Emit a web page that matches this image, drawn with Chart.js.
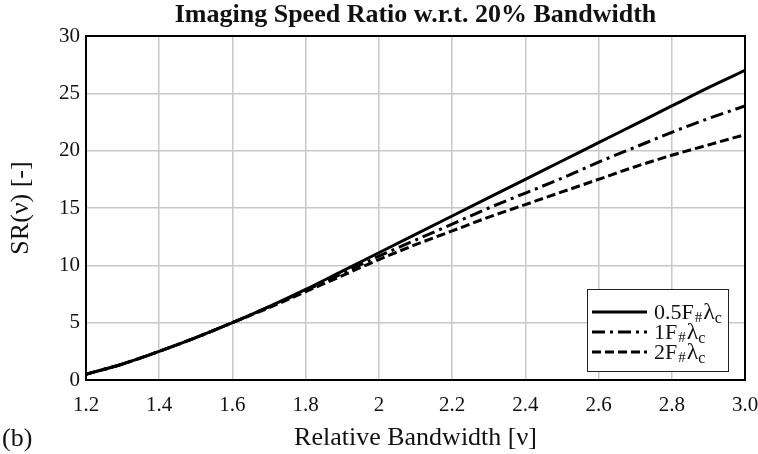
<!DOCTYPE html>
<html>
<head>
<meta charset="utf-8">
<script src="https://cdn.jsdelivr.net/npm/chart.js@4/dist/chart.umd.min.js"></script>
<style>
  html, body { margin: 0; padding: 0; background: #fff; }
  #wrap { width: 758px; height: 454px; }
</style>
</head>
<body>
<div id="wrap"><canvas id="myChart" width="758" height="454"></canvas></div>
<script>
// data
var bandwidth = [1.2, 1.3, 1.4, 1.5, 1.6, 1.7, 1.8, 1.9, 2.0, 2.1, 2.2, 2.3, 2.4, 2.5, 2.6, 2.7, 2.8, 2.9, 3.0]
var sr_half = [0.5, 1.4, 2.5, 3.7, 5.0, 6.4, 7.9, 9.5, 11.1, 12.7, 14.3, 15.9, 17.5, 19.1, 20.7, 22.3, 23.9, 25.5, 27.0]
var sr_one  = [0.5, 1.4, 2.5, 3.7, 5.0, 6.4, 7.8, 9.3, 10.8, 12.2, 13.6, 15.0, 16.3, 17.6, 19.0, 20.3, 21.6, 22.8, 23.9]
var sr_two  = [0.5, 1.4, 2.5, 3.7, 5.0, 6.3, 7.7, 9.1, 10.5, 11.8, 13.0, 14.2, 15.3, 16.4, 17.5, 18.6, 19.6, 20.5, 21.4]
var xTickLabels = ['1.2', '1.4', '1.6', '1.8', '2', '2.2', '2.4', '2.6', '2.8', '3.0']
var legendNames = [['0.5F', '#', 'λ', 'c'], ['1F', '#', 'λ', 'c'], ['2F', '#', 'λ', 'c']]
var dashes = [[], [13, 5, 3, 5], [9, 4]]
var chartTitle = 'Imaging Speed Ratio w.r.t. 20% Bandwidth'

var SERIF = '"Liberation Serif", "Times New Roman", serif'

function pts(ys) {
  return bandwidth.map(function (x, i) { return { x: x, y: ys[i] } })
}

// frame around plot, title over plot, legend box, panel letter
var extras = {
  id: 'extras',
  afterDraw: function (chart) {
    var ctx = chart.ctx
    var a = chart.chartArea
    ctx.save()
    ctx.strokeStyle = '#000'
    ctx.lineWidth = 2
    ctx.strokeRect(a.left, a.top, a.right - a.left, a.bottom - a.top)

    ctx.fillStyle = '#111'
    ctx.font = 'bold 26px ' + SERIF
    ctx.textAlign = 'center'
    ctx.textBaseline = 'middle'
    ctx.fillText(chartTitle, (a.left + a.right) / 2, 15)
    ctx.textAlign = 'left'

    // legend
    var bx = 587, by = 289, bw = 141, bh = 82
    ctx.fillStyle = '#fff'
    ctx.fillRect(bx, by, bw, bh)
    ctx.lineWidth = 1
    ctx.strokeStyle = '#222'
    ctx.strokeRect(bx + 0.5, by + 0.5, bw, bh)
    var rows = [312, 332, 352]
    for (var i = 0; i < 3; i++) {
      ctx.beginPath()
      ctx.setLineDash(dashes[i])
      ctx.lineWidth = 3
      ctx.strokeStyle = '#000'
      ctx.moveTo(592, rows[i])
      ctx.lineTo(647, rows[i])
      ctx.stroke()
      ctx.setLineDash([])
      var n = legendNames[i]
      var x = 654
      ctx.fillStyle = '#111'
      ctx.textBaseline = 'alphabetic'
      ctx.font = '22px ' + SERIF
      ctx.fillText(n[0], x, rows[i] + 7)
      x += ctx.measureText(n[0]).width
      ctx.font = '15px ' + SERIF
      ctx.fillText(n[1], x + 1, rows[i] + 10)
      x += ctx.measureText(n[1]).width + 2
      ctx.font = '24px ' + SERIF
      ctx.fillText(n[2], x, rows[i] + 7)
      x += ctx.measureText(n[2]).width
      ctx.font = '16px ' + SERIF
      ctx.fillText(n[3], x, rows[i] + 11)
    }

    ctx.fillStyle = '#111'
    ctx.font = '26px ' + SERIF
    ctx.textBaseline = 'middle'
    ctx.fillText('(b)', 2, 439)
    ctx.restore()
  }
}

function updateChart() {
  var ctx = document.getElementById('myChart').getContext('2d')
  var line = function (ys, i) {
    return { data: pts(ys), borderColor: '#000', borderWidth: 3, borderDash: dashes[i], pointRadius: 0, cubicInterpolationMode: 'monotone', fill: false }
  }
  var chart = new Chart(ctx, {
    type: 'line',
    data: {
      datasets: [line(sr_half, 0), line(sr_one, 1), line(sr_two, 2)]
    },
    options: {
      responsive: false,
      animation: false,
      layout: { padding: { left: 0, right: 13, top: 36, bottom: 0 } },
      plugins: {
        legend: { display: false },
        tooltip: { enabled: false },
        title: { display: false }
      },
      scales: {
        x: {
          type: 'linear',
          min: 1.2,
          max: 3.0,
          afterFit: function (s) { s.height = 74; s.paddingRight = 0; s.paddingLeft = 0 },
          ticks: {
            stepSize: 0.2,
            color: '#111',
            padding: 13,
            maxRotation: 0,
            font: { family: SERIF, size: 21 },
            callback: function (v, i) { return xTickLabels[i] }
          },
          grid: { color: '#c8c8c8', lineWidth: 1.5, drawTicks: false },
          border: { display: false },
          title: {
            display: true,
            text: 'Relative Bandwidth [ν]',
            color: '#111',
            font: { family: SERIF, size: 26, lineHeight: 1.1 },
            padding: { top: 0, bottom: 2 }
          }
        },
        y: {
          min: 0,
          max: 30,
          afterFit: function (s) { s.width = 86; s.paddingTop = 0; s.paddingBottom = 0 },
          ticks: {
            stepSize: 5,
            color: '#111',
            padding: 6,
            font: { family: SERIF, size: 21 }
          },
          grid: { color: '#c8c8c8', lineWidth: 1.5, drawTicks: false },
          border: { display: false },
          title: {
            display: true,
            text: 'SR(ν) [-]',
            color: '#111',
            font: { family: SERIF, size: 26, lineHeight: 1.1 },
            padding: { top: 7, bottom: 0 }
          }
        }
      }
    },
    plugins: [extras]
  })
}

updateChart()
</script>
</body>
</html>
